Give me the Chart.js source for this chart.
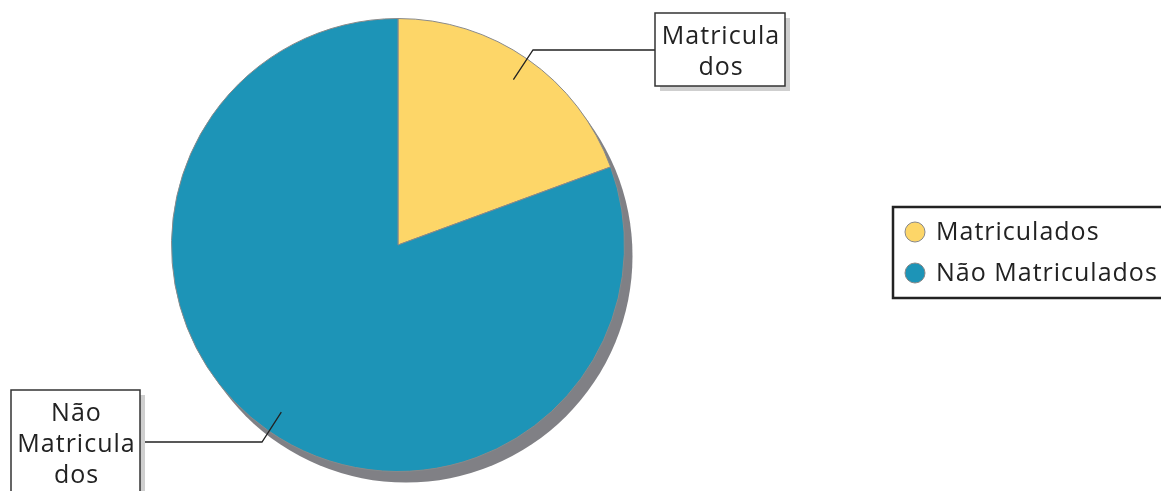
<!DOCTYPE html>
<html>
<head>
<meta charset="utf-8">
<script src="https://cdn.jsdelivr.net/npm/chart.js@4"></script>
<style>
  html, body { margin: 0; padding: 0; background: #fff; }
  #wrap { width: 1161px; height: 491px; }
</style>
</head>
<body>
<div id="wrap"><canvas id="pieChart"></canvas></div>
<script>
var categories = ['Matriculados', 'Não Matriculados'];
var values = [19.4, 80.6];
var sliceColors = ['#fdd668', '#1d94b7'];
// texts of the callout boxes, wrapped like in the picture
var calloutLines = [['Matricula', 'dos'], ['Não', 'Matricula', 'dos']];

var FONT = '"Open Sans", sans-serif';

// gray drop shadow under the pie
var pieShadow = {
    id: 'pieShadow',
    beforeDatasetsDraw: function (chart) {
        var arc = chart.getDatasetMeta(0).data[0];
        var ctx = chart.ctx;
        ctx.save();
        ctx.fillStyle = '#808085';
        ctx.beginPath();
        ctx.arc(arc.x + 8, arc.y + 11, arc.outerRadius, 0, Math.PI * 2);
        ctx.fill();
        ctx.restore();
    }
};

// callout boxes with leader lines
var callouts = {
    id: 'callouts',
    afterDatasetsDraw: function (chart) {
        var ctx = chart.ctx;
        var boxes = [
            { x: 655, y: 13, w: 130, h: 73, lineY: 50, elbowX: 533, r: 0.89 },
            { x: 11, y: 390, w: 129, h: 110, lineY: 442, elbowX: 262, r: 0.9 }
        ];
        chart.getDatasetMeta(0).data.forEach(function (arc, i) {
            var b = boxes[i];
            var mid = (arc.startAngle + arc.endAngle) / 2;
            var px = arc.x + Math.cos(mid) * arc.outerRadius * b.r;
            var py = arc.y + Math.sin(mid) * arc.outerRadius * b.r;
            var joinX = i === 0 ? b.x : b.x + b.w;
            ctx.save();
            // leader line
            ctx.strokeStyle = '#222';
            ctx.lineWidth = 1.3;
            ctx.beginPath();
            ctx.moveTo(px, py);
            ctx.lineTo(b.elbowX, b.lineY);
            ctx.lineTo(joinX, b.lineY);
            ctx.stroke();
            // box shadow
            ctx.fillStyle = '#cfcfcf';
            ctx.fillRect(b.x + 5, b.y + 5, b.w, b.h);
            ctx.fillStyle = '#fff';
            ctx.fillRect(b.x, b.y, b.w, b.h);
            ctx.strokeStyle = '#333';
            ctx.lineWidth = 1.5;
            ctx.strokeRect(b.x, b.y, b.w, b.h);
            // text
            ctx.fillStyle = '#222';
            ctx.font = '25px ' + FONT;
            ctx.letterSpacing = '1px';
            ctx.textAlign = 'center';
            ctx.textBaseline = 'alphabetic';
            var lines = calloutLines[i];
            lines.forEach(function (t, k) {
                ctx.fillText(t, b.x + b.w / 2 + 1, b.y + 31 + k * 31);
            });
            ctx.restore();
        });
    }
};

// boxed legend on the right
var boxLegend = {
    id: 'boxLegend',
    afterDraw: function (chart) {
        var ctx = chart.ctx;
        ctx.save();
        ctx.fillStyle = '#fff';
        ctx.fillRect(893, 207, 280, 91);
        ctx.strokeStyle = '#222';
        ctx.lineWidth = 2.5;
        ctx.strokeRect(893, 207, 280, 91);
        ctx.font = '25px ' + FONT;
        ctx.letterSpacing = '1px';
        ctx.textBaseline = 'middle';
        ctx.textAlign = 'left';
        categories.forEach(function (name, i) {
            var cy = 232 + i * 41;
            ctx.beginPath();
            ctx.arc(915, cy, 10, 0, Math.PI * 2);
            ctx.fillStyle = sliceColors[i];
            ctx.fill();
            ctx.strokeStyle = '#888';
            ctx.lineWidth = 1;
            ctx.stroke();
            ctx.fillStyle = '#222';
            ctx.fillText(name, 936, cy + 1);
        });
        ctx.restore();
    }
};

var ctxPie = document.getElementById('pieChart').getContext('2d');
var pieChart = new Chart(ctxPie, {
    type: 'pie',
    plugins: [pieShadow, callouts, boxLegend],
    data: {
        labels: categories,
        datasets: [{
            data: values,
            backgroundColor: sliceColors,
            borderColor: '#8a8a8a',
            borderWidth: 1
        }]
    },
    options: {
        responsive: true,
        maintainAspectRatio: false,
        animation: false,
        layout: {
            padding: { left: 171, right: 536, top: 18, bottom: 19 }
        },
        plugins: {
            legend: { display: false },
            tooltip: { enabled: false },
            title: { display: false }
        }
    }
});
</script>
</body>
</html>
